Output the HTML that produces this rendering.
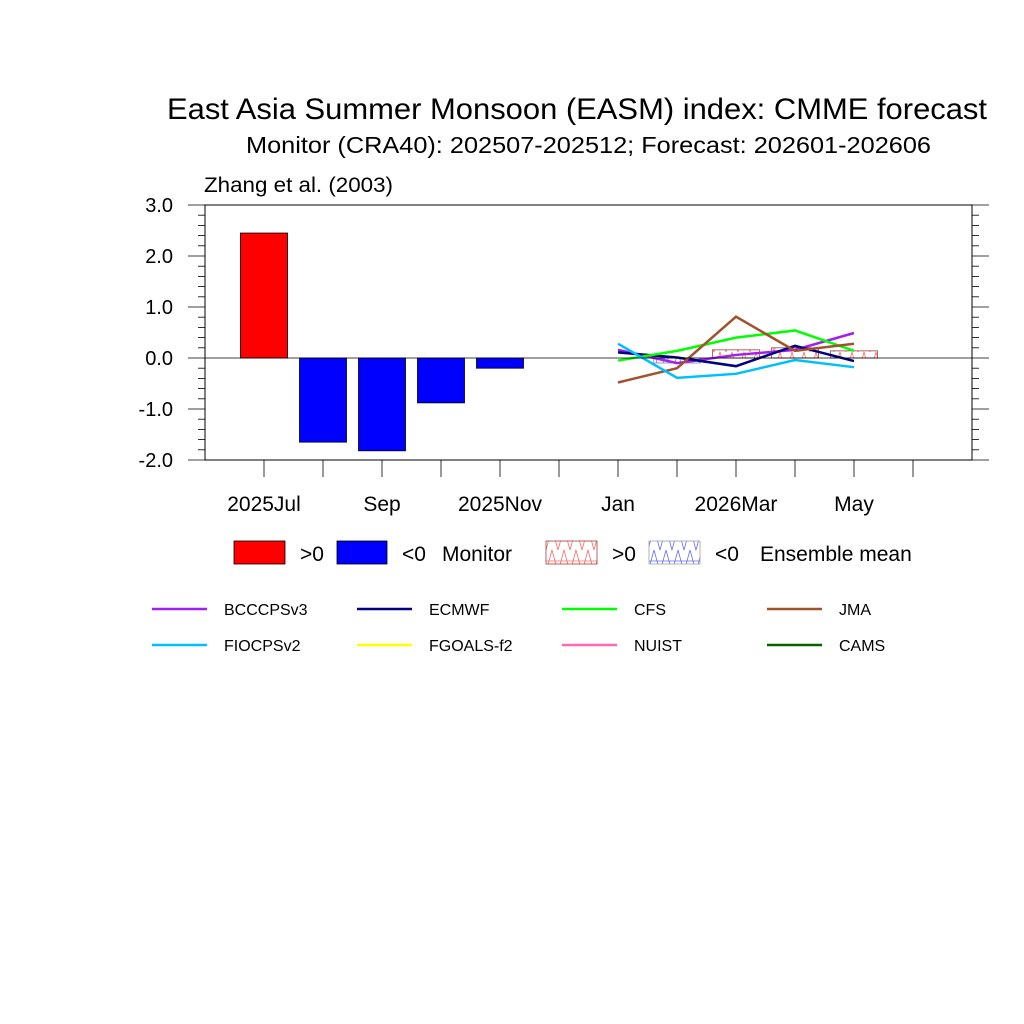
<!DOCTYPE html>
<html><head><meta charset="utf-8"><style>
body{margin:0;background:#fff}
svg{display:block;font-family:"Liberation Sans",sans-serif}
</style></head><body>
<svg id="c" width="1024" height="1024" viewBox="0 0 1024 1024">
<defs>
<pattern id="hr" width="12" height="22" patternUnits="userSpaceOnUse">
<path d="M0,0 L6,22 L12,0 M0,11 H12 M-6,22 L0,0 M12,22 L18,0" stroke="#ff4040" stroke-width="0.8" fill="none" opacity="0.8"/>
</pattern>
<pattern id="hb" width="12" height="22" patternUnits="userSpaceOnUse">
<path d="M0,22 L6,0 L12,22 M0,11 H12 M-6,0 L0,22 M12,0 L18,22" stroke="#4040ff" stroke-width="0.8" fill="none" opacity="0.8"/>
</pattern>
</defs>
<text x="167" y="119" font-size="30" textLength="820" lengthAdjust="spacingAndGlyphs">East Asia Summer Monsoon (EASM) index: CMME forecast</text>
<text x="246" y="153" font-size="23" textLength="685" lengthAdjust="spacingAndGlyphs">Monitor (CRA40): 202507-202512; Forecast: 202601-202606</text>
<text x="204" y="192" font-size="21" textLength="189" lengthAdjust="spacingAndGlyphs">Zhang et al. (2003)</text>
<g id="plot"></g>
</svg>
<script>
const months=["Jul","Aug","Sep","Oct","Nov","Dec","Jan","Feb","Mar","Apr","May","Jun"];
const tickLabels=["2025Jul","","Sep","","2025Nov","","Jan","","2026Mar","","May",""];
const monitorVals=[2.45,-1.65,-1.82,-0.88,-0.2];
const ensVals=[0,-0.1,0.16,0.2,0.14];
const yTicks=[-2,-1,0,1,2,3];
const modelNames=["BCCCPSv3","ECMWF","CFS","JMA","FIOCPSv2","FGOALS-f2","NUIST","CAMS"];
const modelColors=["#a020f0","#000080","#00ff00","#a0522d","#00bfff","#ffff00","#ff69b4","#006400"];
const bcc=[0.16,-0.1,0.06,0.16,0.49];
const ecmwf=[0.11,0.01,-0.16,0.24,-0.06];
const cfs=[-0.05,0.14,0.4,0.54,0.14];
const jma=[-0.48,-0.2,0.81,0.14,0.28];
const fio=[0.28,-0.39,-0.31,-0.04,-0.18];
const modelSeries=[bcc,ecmwf,cfs,jma,fio,null,null,null];
const fcStart=6;
const NS="http://www.w3.org/2000/svg";
const g=document.getElementById('plot');
const L=205,R=972,T=205,B=460;
const X=i=>L+59*(i+1);
const Y=v=>T+(3-v)*(B-T)/5;
function mk(t,a,p){const e=document.createElementNS(NS,t);for(const k in a)e.setAttribute(k,a[k]);(p||g).appendChild(e);return e;}
monitorVals.forEach((v,i)=>{
 const r=mk('rect',{x:X(i)-23.5,y:Math.min(Y(v),Y(0)),width:47,height:Math.abs(Y(v)-Y(0)),fill:v>0?'#ff0000':'#0000ff',stroke:'#000','stroke-width':0.8});
 
 
});
ensVals.forEach((v,i)=>{
 if(Math.abs(v)<0.005)return;
 const r=mk('rect',{x:X(i+fcStart)-23.5,y:Math.min(Y(v),Y(0)),width:47,height:Math.abs(Y(v)-Y(0)),fill:v>0?'url(#hr)':'url(#hb)',stroke:v>0?'#a04040':'#a0a0a0','stroke-width':0.8});
 
 
});
modelSeries.forEach((s,k)=>{
 if(!s)return;
 const p=mk('polyline',{points:s.map((v,i)=>X(i+fcStart)+','+Y(v)).join(' '),fill:'none',stroke:modelColors[k],'stroke-width':2.5});
 
 
});
mk('line',{x1:L,x2:R,y1:Y(0),y2:Y(0),stroke:'#000','stroke-width':0.8});
const fr=mk('rect',{x:L,y:T,width:R-L,height:B-T,fill:'none',stroke:'#000','stroke-width':1});


for(let v=-2;v<=3.001;v+=0.2){
 const major=Math.abs(v-Math.round(v))<0.01;
 const len=major?17:7;
 mk('line',{x1:L-len,x2:L,y1:Y(v),y2:Y(v),stroke:'#000','stroke-width':0.8});
 mk('line',{x1:R,x2:R+len,y1:Y(v),y2:Y(v),stroke:'#000','stroke-width':0.8});
}
yTicks.forEach(v=>{
 const t=mk('text',{x:173,y:Y(v)+7,'font-size':20,'text-anchor':'end'});
 t.textContent=v.toFixed(1);
 
 
});
months.forEach((m,i)=>{
 mk('line',{x1:X(i),x2:X(i),y1:B,y2:B+17,stroke:'#000','stroke-width':0.8});
 if(tickLabels[i]){
  const t=mk('text',{x:X(i),y:511,'font-size':21,'text-anchor':'middle'});
  t.textContent=tickLabels[i];
  
  
 }
});
function lt(x,y,s,fs,name){const t=mk('text',{x:x,y:y,'font-size':fs});t.textContent=s;return t;}
mk('rect',{x:234,y:541,width:51,height:23,fill:'#ff0000',stroke:'#000','stroke-width':0.8});
lt(300,561,'>0',21,'legend-monitor-pos');
mk('rect',{x:337,y:541,width:50,height:23,fill:'#0000ff',stroke:'#000','stroke-width':0.8});
lt(402,561,'<0',21,'legend-monitor-neg');
lt(442,561,'Monitor',21,'legend-monitor-label');
mk('rect',{x:546,y:541,width:51,height:23,fill:'url(#hr)',stroke:'#a04040','stroke-width':0.8});
lt(612,561,'>0',21,'legend-ensemble-pos');
mk('rect',{x:649,y:541,width:51,height:23,fill:'url(#hb)',stroke:'#a0a0a0','stroke-width':0.8});
lt(715,561,'<0',21,'legend-ensemble-neg');
lt(760,561,'Ensemble mean',21,'legend-ensemble-label');
modelNames.forEach((n,k)=>{
 const col=k%4,row=Math.floor(k/4);
 const x=152+205*col,y=609+36*row;
 const l=mk('line',{x1:x,x2:x+55,y1:y,y2:y,stroke:modelColors[k],'stroke-width':2.5});
 
 
 lt(x+72,y+6,n,16,'legend-label-'+n.toLowerCase());
});
</script>
</body></html>
